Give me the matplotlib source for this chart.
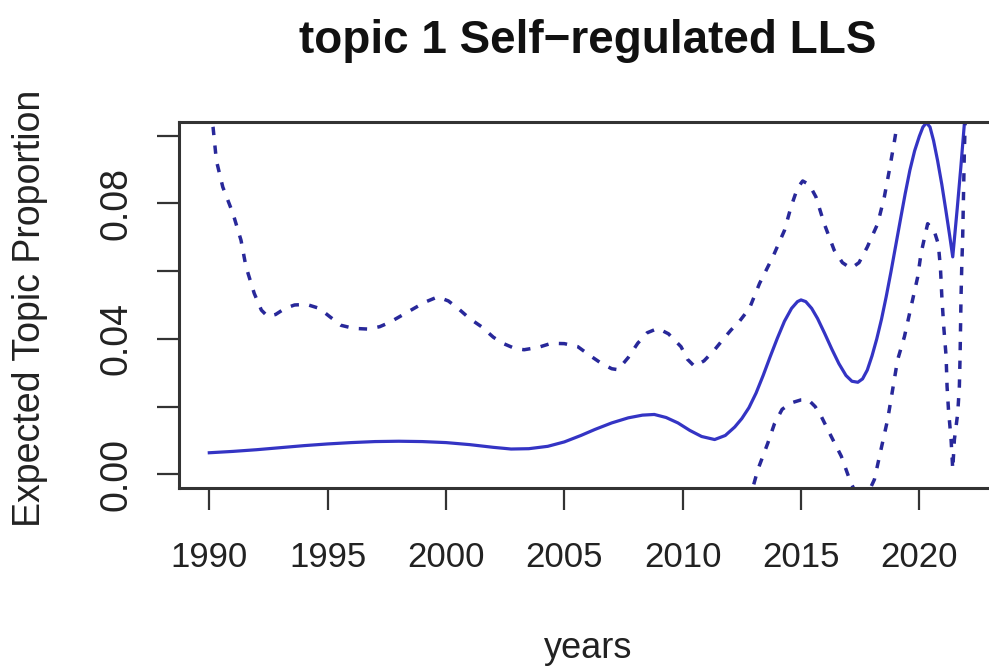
import matplotlib
matplotlib.use('Agg')
import matplotlib.pyplot as plt
from matplotlib.ticker import FixedLocator, FixedFormatter

plt.rcParams['font.family'] = ['Liberation Sans', 'DejaVu Sans']

title = "topic 1 Self\u2212regulated LLS"
x_label = "years"
y_label = "Expected Topic Proportion"

x_ticks = [1990, 1995, 2000, 2005, 2010, 2015, 2020]
y_ticks = [0.00, 0.02, 0.04, 0.06, 0.08, 0.10]
y_tick_labels = ["0.00", "", "0.04", "", "0.08", ""]

# mean estimate (solid line)
mean_years = [1990.0, 1991.0, 1992.0, 1993.0, 1994.0, 1995.0, 1996.0, 1997.0, 1998.0,
              1999.0, 2000.0, 2001.0, 2002.0, 2002.75, 2003.5, 2004.3, 2005.0, 2005.7,
              2006.3, 2007.0, 2007.7, 2008.3, 2008.8, 2009.3, 2009.8, 2010.3, 2010.8,
              2011.35, 2011.8, 2012.2, 2012.5, 2012.8, 2013.1, 2013.4, 2013.7, 2014.0,
              2014.3, 2014.6, 2014.85, 2015.0, 2015.2, 2015.45, 2015.7, 2016.0, 2016.3,
              2016.6, 2016.9, 2017.15, 2017.4, 2017.6, 2017.8, 2018.0, 2018.2, 2018.4,
              2018.6, 2018.8, 2019.0, 2019.2, 2019.4, 2019.6, 2019.8, 2020.0, 2020.15,
              2020.3, 2020.45, 2020.6, 2020.77, 2020.95, 2021.12, 2021.28, 2021.41,
              2021.6, 2021.75, 2022.0]
mean_vals = [0.0064, 0.0068, 0.0073, 0.0079, 0.0085, 0.0090, 0.0094, 0.0097, 0.0098,
             0.0097, 0.0094, 0.0088, 0.0080, 0.0075, 0.0076, 0.0083, 0.0096, 0.0115,
             0.0133, 0.0152, 0.0167, 0.0175, 0.0177, 0.0168, 0.0152, 0.0130, 0.0112,
             0.0103, 0.0115, 0.0140, 0.0165, 0.0197, 0.0240, 0.0292, 0.0348, 0.0402,
             0.0452, 0.0490, 0.0510, 0.0515, 0.0510, 0.0490, 0.0460, 0.0416, 0.0370,
             0.0327, 0.0292, 0.0275, 0.0272, 0.0282, 0.0308, 0.0350, 0.0400, 0.0458,
             0.0525, 0.0598, 0.0675, 0.0752, 0.0828, 0.0898, 0.0955, 0.0998, 0.1025,
             0.1038, 0.1025, 0.0985, 0.0926, 0.0855, 0.0779, 0.0705, 0.0642,
             0.0785, 0.0905, 0.1120]

# upper confidence bound (dashed)
upper_years = [1990.0, 1990.16, 1990.3, 1990.57, 1991.0, 1991.34, 1991.55, 1991.9, 1992.2,
               1992.47, 1992.8, 1993.2, 1993.6, 1994.1, 1994.65, 1995.1, 1995.57, 1996.1,
               1996.7, 1997.2, 1997.6, 1998.1, 1998.6, 1999.1, 1999.65, 2000.1, 2000.56,
               2001.0, 2001.5, 2002.0, 2002.4, 2002.9, 2003.3, 2003.9, 2004.45, 2005.0,
               2005.57, 2006.1, 2006.56, 2007.0, 2007.27, 2007.7, 2008.1, 2008.5, 2008.95,
               2009.4, 2009.93, 2010.2, 2010.5, 2010.9, 2011.35, 2011.7, 2012.04, 2012.4,
               2012.82, 2013.25, 2013.81, 2014.3, 2014.58, 2014.85, 2015.07, 2015.35,
               2015.63, 2015.98, 2016.4, 2016.75, 2017.11, 2017.45, 2017.8, 2018.24,
               2018.52, 2018.73, 2018.95, 2019.1, 2019.4, 2020.3, 2021.4, 2022.0]
upper_vals = [0.1080, 0.1024, 0.0926, 0.0848, 0.0770, 0.0691, 0.0613, 0.0534, 0.0485,
              0.0466, 0.0472, 0.0490, 0.0500, 0.0502, 0.0490, 0.0465, 0.0440, 0.0431,
              0.0429, 0.0436, 0.0448, 0.0468, 0.0488, 0.0508, 0.0524, 0.0512, 0.0487,
              0.0460, 0.0436, 0.0405, 0.0387, 0.0372, 0.0368, 0.0375, 0.0387, 0.0386,
              0.0377, 0.0350, 0.0328, 0.0312, 0.0309, 0.0345, 0.0387, 0.0418, 0.0431,
              0.0415, 0.0377, 0.0340, 0.0319, 0.0335, 0.0368, 0.0398, 0.0426, 0.0452,
              0.0490, 0.0564, 0.0642, 0.0720, 0.0790, 0.0845, 0.0866, 0.0855,
              0.0819, 0.0740, 0.0662, 0.0625, 0.0608, 0.0625, 0.0671, 0.0740,
              0.0819, 0.0897, 0.0985, 0.1050, 0.1200, 0.1400, 0.1300, 0.1600]

# lower confidence bound (dashed)
lower_years = [1990.0, 1991.0, 1992.0, 1993.0, 1995.0, 1997.0, 2000.0, 2003.0, 2005.0,
               2007.0, 2009.0, 2011.35, 2012.5, 2013.0, 2013.18, 2013.6, 2013.88, 2014.2,
               2014.58, 2015.0, 2015.3, 2015.6, 2015.85, 2016.27, 2016.7, 2017.1, 2017.5,
               2017.8, 2018.1, 2018.38, 2018.66, 2018.87, 2019.08, 2019.37, 2019.65,
               2019.93, 2020.07, 2020.35, 2020.62, 2020.8, 2020.89, 2020.95, 2021.03,
               2021.13, 2021.17, 2021.23, 2021.34, 2021.41, 2021.48, 2021.62, 2021.69,
               2021.72, 2021.74, 2021.76, 2021.79, 2021.83, 2021.9, 2022.0]
lower_vals = [-0.0940, -0.0630, -0.0390, -0.0330, -0.0280, -0.0250, -0.0340, -0.0220, -0.0190,
              -0.0060, -0.0080, -0.0160, -0.0100, -0.0030, 0.0015, 0.0093, 0.0150, 0.0192,
              0.0211, 0.0220, 0.0221, 0.0200, 0.0172, 0.0113, 0.0054, -0.0024, -0.0080,
              -0.0060, -0.0015, 0.0074, 0.0162, 0.0250, 0.0338, 0.0407, 0.0495,
              0.0583, 0.0652, 0.0740, 0.0720, 0.0680, 0.0610, 0.0524, 0.0436,
              0.0348, 0.0260, 0.0191, 0.0103, 0.0015, 0.0103, 0.0180, 0.0260,
              0.0348, 0.0436, 0.0524, 0.0610, 0.0700, 0.0950, 0.1200]

fig = plt.figure(figsize=(9.89, 6.68), dpi=100)
# the original plot is cut off on the right, so the axes run past the figure edge
ax = fig.add_axes([179 / 989, 180 / 668, 818 / 989, 366 / 668])

line_col = '#3434c4'
dash_col = '#28289a'
ax.plot(mean_years, mean_vals, color=line_col, lw=2.3, solid_joinstyle='round')
ax.plot(upper_years, upper_vals, color=dash_col, lw=2.5, linestyle=(0, (2.4, 3.0)))
ax.plot(lower_years, lower_vals, color=dash_col, lw=2.5, linestyle=(0, (2.4, 3.0)))

ax.set_xlim(1988.72, 2023.28)
ax.set_ylim(-0.004, 0.104)

ax.xaxis.set_major_locator(FixedLocator(x_ticks))
ax.set_xticklabels([str(t) for t in x_ticks])
ax.yaxis.set_major_locator(FixedLocator(y_ticks))
ax.yaxis.set_major_formatter(FixedFormatter(y_tick_labels))

for sp in ax.spines.values():
    sp.set_linewidth(2.2)
    sp.set_color('#333333')

ax.tick_params(axis='both', direction='out', length=16, width=1.6, color='#333333')
ax.tick_params(axis='x', labelsize=25, pad=22, labelcolor='#222222')
ax.tick_params(axis='y', labelsize=27, pad=16, labelcolor='#222222', labelrotation=90)
for lab in ax.get_yticklabels():
    lab.set_va('center')

fig.text(588 / 989, 1 - 41 / 668, title, ha='center', va='center',
         fontsize=33, fontweight='bold', color='#111111')
fig.text(30 / 989, 1 - 308 / 668, y_label, ha='center', va='center',
         rotation=90, fontsize=27, color='#222222')
fig.text(588 / 989, 1 - 648 / 668, x_label, ha='center', va='center',
         fontsize=26, color='#222222')

plt.savefig('out.png', dpi=100)
plt.close()
